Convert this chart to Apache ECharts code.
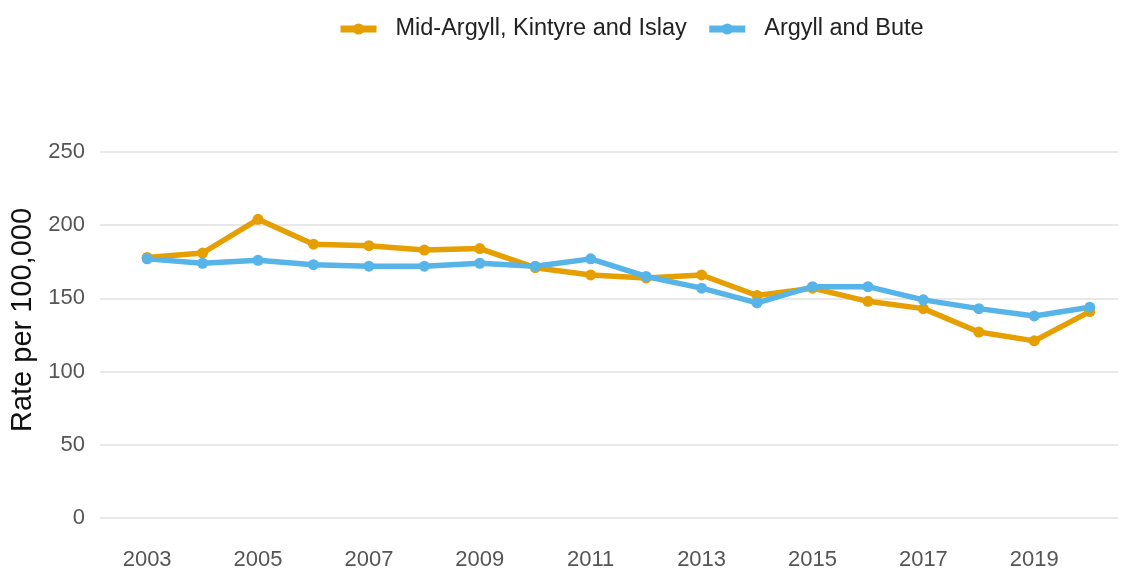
<html>
<head>
<meta http-equiv="content-type" content="text/html; charset=utf-8">
<script src="https://cdn.jsdelivr.net/npm/echarts@6/dist/echarts.min.js"></script>
<style>
html, body { margin: 0; padding: 0; background: #ffffff; }
#chart { width: 1122px; height: 571px; }
</style>
<title>Rate per 100,000</title>
</head>
<body>
<div id="chart"></div>
<script type="text/javascript">
///////////////////////////////////////////////////////////////////////////////
// data
var years = [2003, 2004, 2005, 2006, 2007, 2008, 2009, 2010, 2011, 2012,
	2013, 2014, 2015, 2016, 2017, 2018, 2019, 2020];
var mid_argyll = [178, 181, 204, 187, 186, 183, 184, 171, 166, 164,
	166, 152, 157, 148, 143, 127, 121, 141];
var argyll_bute = [177, 174, 176, 173, 172, 172, 174, 172, 177, 165,
	157, 147, 158, 158, 149, 143, 138, 144];
var year_labels = [2003, 2005, 2007, 2009, 2011, 2013, 2015, 2017, 2019];
var y_ticks = [0, 50, 100, 150, 200, 250];

///////////////////////////////////////////////////////////////////////////////
function pairs(vals) {
	var d = [];
	for (var i = 0; i < years.length; i++) d.push([years[i], vals[i]]);
	return d;
}

var font = "'Liberation Sans', Arial, sans-serif";

var chart = echarts.init(document.getElementById('chart'), null, {renderer: 'canvas'});

chart.setOption({
	animation: false,
	legend: {
		top: 12,
		left: 332,
		itemWidth: 36,
		itemHeight: 14,
		itemGap: 19,
		lineStyle: {width: 7},
		textStyle: {fontFamily: font, fontSize: 23.5, color: '#222', padding: [0, 0, 0, 14]},
		data: ['Mid-Argyll, Kintyre and Islay', 'Argyll and Bute'],
	},
	grid: {left: 100, right: 4, top: 152, bottom: 52},
	xAxis: {
		type: 'value',
		min: 2002.15,
		max: 2020.51,
		axisLine: {show: false},
		axisTick: {show: false},
		splitLine: {show: false},
		axisLabel: {
			customValues: year_labels,
			fontFamily: font, fontSize: 22, color: '#555', margin: 31,
			formatter: function (v) { return String(v); },
		},
	},
	yAxis: {
		type: 'value',
		min: 0,
		max: 250,
		interval: 50,
		name: 'Rate per 100,000',
		nameLocation: 'middle',
		nameGap: 51,
		nameTextStyle: {fontFamily: font, fontSize: 29, color: '#111', padding: [0, 0, 0, 30]},
		axisLine: {show: false},
		axisTick: {show: false},
		axisLabel: {fontFamily: font, fontSize: 22, color: '#555', margin: 15, customValues: y_ticks},
		splitLine: {lineStyle: {color: '#e8e8e8', width: 2}},
	},
	series: [
		{
			name: 'Mid-Argyll, Kintyre and Islay',
			type: 'line',
			data: pairs(mid_argyll),
			color: '#E69F00',
			symbol: 'circle',
			symbolSize: 11,
			lineStyle: {width: 5.5},
		},
		{
			name: 'Argyll and Bute',
			type: 'line',
			data: pairs(argyll_bute),
			color: '#56B4E9',
			symbol: 'circle',
			symbolSize: 11,
			lineStyle: {width: 5.5},
		},
	],
});
</script>
</body>
</html>
